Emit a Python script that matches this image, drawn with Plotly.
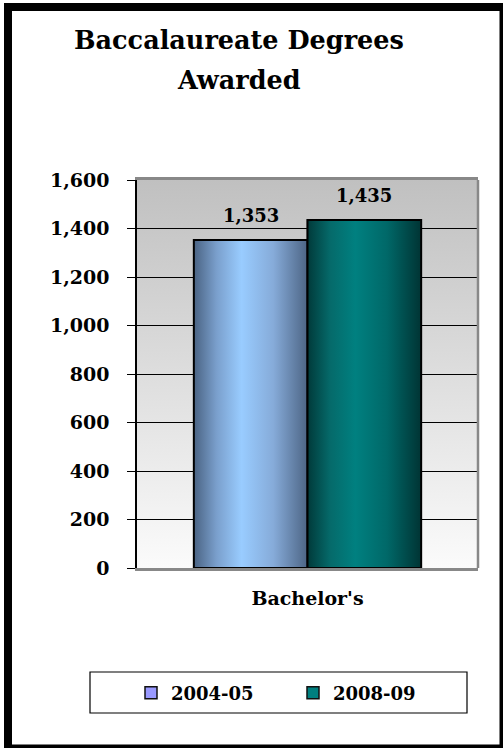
import base64
import plotly.graph_objects as go

# ---- data ----
categories = ["Bachelor's"]
series_names = ["2004-05", "2008-09"]
values_2004_05 = [1353]
values_2008_09 = [1435]
y_ticks = [0, 200, 400, 600, 800, 1000, 1200, 1400, 1600]
title_lines = ["Baccalaureate Degrees", "Awarded"]

# ---- styles ----
FONT = "DejaVu Serif"
legend_colors = ["#9999FF", "#008080"]
gradients = [
    [[0, "#4a6383"], [0.2, "#7a9fcc"], [0.42, "#99ccff"], [0.7, "#86abd9"], [1, "#4d6585"]],
    [[0, "#013a3a"], [0.2, "#056a6a"], [0.42, "#008080"], [0.7, "#006868"], [1, "#003434"]],
]
series = [values_2004_05, values_2008_09]
bar_w = 1 / 3
offsets = [-1 / 3, 0]
cat_pos = list(range(len(categories)))

W, H = 503, 748
ML, MR, MT, MB = 137, 25, 180, 180
PW, PH = W - ML - MR, H - MT - MB


def px_x(p):
    return (p - ML) / PW


def px_y(p):
    return (H - MB - p) / PH


fig = go.Figure()

for name, vals, col, off in zip(series_names, series, legend_colors, offsets):
    fig.add_trace(go.Bar(
        x=cat_pos, y=vals, name=name, width=bar_w, offset=off,
        marker=dict(color=col, line=dict(color="#111111", width=1.5)),
        hoverinfo="skip",
    ))

for vals, grad, off in zip(series, gradients, offsets):
    for xc, v in zip(cat_pos, vals):
        x0 = xc + off
        x1 = x0 + bar_w
        fig.add_trace(go.Scatter(
            x=[x0, x0, x1, x1, x0], y=[0, v, v, 0, 0], mode="lines",
            fill="toself", fillgradient=dict(type="horizontal", colorscale=grad),
            line=dict(color="black", width=2), showlegend=False, hoverinfo="skip",
        ))

annotations = []
for vals, off in zip(series, offsets):
    for xc, v in zip(cat_pos, vals):
        annotations.append(dict(
            x=xc + off + bar_w / 2, y=v, xref="x", yref="y", text=f"{v:,}",
            showarrow=False, yanchor="bottom", yshift=12,
            font=dict(family=FONT, size=18, color="black", weight="bold"),
        ))

title_centre = px_x(238.5)
for line, base in zip(title_lines, [49.5, 90]):
    annotations.append(dict(
        x=title_centre, y=px_y(base + 7), xref="paper", yref="paper",
        text=line, showarrow=False, xanchor="center", yanchor="bottom",
        font=dict(family=FONT, size=25.5, color="black", weight="bold"),
    ))

svg = ("<svg xmlns='http://www.w3.org/2000/svg' width='10' height='100' viewBox='0 0 10 100' "
       "preserveAspectRatio='none'><defs><linearGradient id='g' x1='0' y1='0' x2='0' y2='1'>"
       "<stop offset='0' stop-color='#c0c0c0'/><stop offset='1' stop-color='#fbfbfb'/>"
       "</linearGradient></defs><rect width='10' height='100' fill='url(#g)'/></svg>")
bg_src = "data:image/svg+xml;base64," + base64.b64encode(svg.encode()).decode()

shapes = [
    # right wall edge
    dict(type="line", xref="paper", yref="paper", x0=1, x1=1, y0=0, y1=1,
         line=dict(color="#888888", width=2.5)),
    # legend box
    dict(type="rect", xref="paper", yref="paper", x0=px_x(90), x1=px_x(467),
         y0=px_y(713), y1=px_y(672), line=dict(color="black", width=1.2),
         fillcolor="white", layer="below"),
    # outer border
    dict(type="rect", xref="paper", yref="paper", x0=px_x(8), x1=px_x(503.5),
         y0=px_y(748.5), y1=px_y(7), line=dict(color="black", width=8)),
]

fig.update_layout(
    width=W, height=H,
    margin=dict(l=ML, r=MR, t=MT, b=MB, pad=0),
    paper_bgcolor="white", plot_bgcolor="white",
    barmode="overlay",
    showlegend=True,
    legend=dict(
        orientation="h", x=px_x(131), xanchor="left", y=px_y(693), yanchor="middle",
        bgcolor="rgba(0,0,0,0)", borderwidth=0, entrywidth=117,
        font=dict(family=FONT, size=18, color="black", weight="bold"),
        traceorder="normal",
    ),
    images=[dict(source=bg_src, xref="paper", yref="paper", x=0, y=1, sizex=1, sizey=1,
                 xanchor="left", yanchor="top", sizing="stretch", layer="below")],
    shapes=shapes,
    annotations=annotations,
    xaxis=dict(
        range=[-0.5, 0.5], tickvals=cat_pos, ticktext=categories,
        showline=True, linecolor="#888888", linewidth=2.5, mirror=True,
        ticks="outside", ticklen=0, ticklabelstandoff=11,
        showgrid=False, zeroline=False, fixedrange=True,
        tickfont=dict(family=FONT, size=19, color="black", weight="bold"),
    ),
    yaxis=dict(
        range=[0, 1600], tickvals=y_ticks, tickformat=",",
        ticks="outside", ticklen=8, tickcolor="black", tickwidth=1,
        showline=True, linecolor="black", linewidth=1.5,
        showgrid=True, gridcolor="black", gridwidth=1, zeroline=False,
        ticklabelstandoff=14, fixedrange=True,
        tickfont=dict(family=FONT, size=19, color="black", weight="bold"),
    ),
)

fig.write_html(
    "out.html",
    config={"displayModeBar": False},
    post_script="document.body.style.margin='0';document.body.style.overflow='hidden';",
)
